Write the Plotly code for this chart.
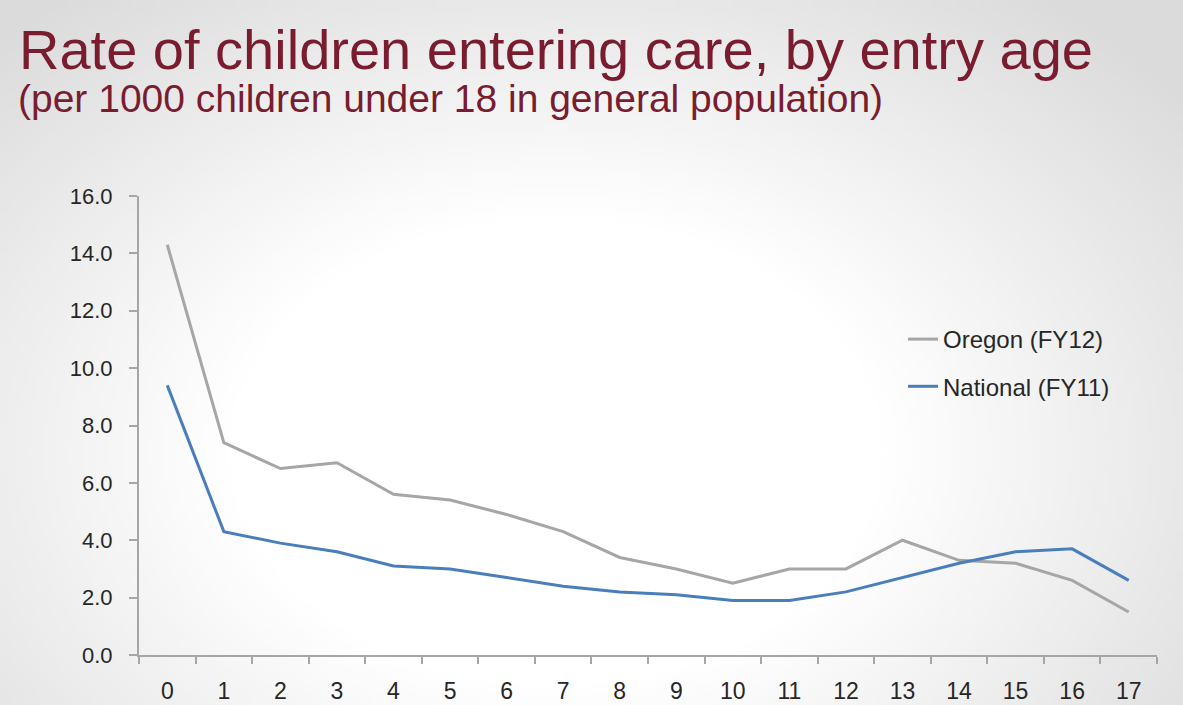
import base64
import struct
import zlib

import numpy as np
import plotly.graph_objects as go

# ---- data ----
ages = [str(a) for a in range(18)]
oregon_fy12 = [14.3, 7.4, 6.5, 6.7, 5.6, 5.4, 4.9, 4.3, 3.4, 3.0, 2.5, 3.0, 3.0, 4.0, 3.3, 3.2, 2.6, 1.5]
national_fy11 = [9.4, 4.3, 3.9, 3.6, 3.1, 3.0, 2.7, 2.4, 2.2, 2.1, 1.9, 1.9, 2.2, 2.7, 3.2, 3.6, 3.7, 2.6]
series_names = ["Oregon (FY12)", "National (FY11)"]
y_ticks = [0, 2, 4, 6, 8, 10, 12, 14, 16]

title_text = "Rate of children entering care, by entry age"
subtitle_text = "(per 1000 children under 18 in general population)"

# ---- layout geometry (pixels) ----
W, H = 1183, 705
ML, MR, MT, MB = 139, 26, 196, 50
PW = W - ML - MR
PH = H - MT - MB


def px_x(x):
    return (x - ML) / PW


def px_y(y):
    return (H - MB - y) / PH


# ---- soft slide background (radial gradient) ----
def gradient_png(w, h):
    xs = (np.arange(w) + 0.5) / w
    ys = (np.arange(h) + 0.5) / h
    X, Y = np.meshgrid(xs, ys)
    r = np.sqrt(((X - 0.47) / 0.62) ** 2 + ((Y - 0.64) / 0.75) ** 2)
    t = np.clip((r - 0.45) / 0.65, 0, 1)
    g = (255 - 36 * t).astype(np.uint8)
    rgb = np.stack([g, g, g], axis=-1)
    raw = b"".join(b"\x00" + rgb[i].tobytes() for i in range(h))

    def chunk(tag, data):
        c = struct.pack(">I", len(data)) + tag + data
        return c + struct.pack(">I", zlib.crc32(tag + data) & 0xFFFFFFFF)

    png = b"\x89PNG\r\n\x1a\n"
    png += chunk(b"IHDR", struct.pack(">IIBBBBB", w, h, 8, 2, 0, 0, 0))
    png += chunk(b"IDAT", zlib.compress(raw, 9))
    png += chunk(b"IEND", b"")
    return "data:image/png;base64," + base64.b64encode(png).decode()


bg = gradient_png(237, 141)

FONT = "Liberation Sans, Arial, sans-serif"

fig = go.Figure()
fig.add_trace(go.Scatter(
    x=ages, y=oregon_fy12, mode="lines", name=series_names[0],
    line=dict(color="#a6a6a6", width=3), legendgroup="a",
))
fig.add_trace(go.Scatter(
    x=ages, y=national_fy11, mode="lines", name=series_names[1],
    line=dict(color="#4a7ebb", width=3), legendgroup="b",
))

fig.update_layout(
    width=W, height=H,
    margin=dict(l=ML, r=MR, t=MT, b=MB, pad=0, autoexpand=False),
    paper_bgcolor="white",
    plot_bgcolor="rgba(0,0,0,0)",
    font=dict(family=FONT, color="#262626"),
    showlegend=True,
    legend=dict(
        x=px_x(903), y=px_y(317), xanchor="left", yanchor="top",
        bgcolor="rgba(0,0,0,0)", font=dict(size=24, color="#262626"),
        tracegroupgap=13, traceorder="grouped", itemwidth=30,
    ),
    images=[dict(
        source=bg, xref="paper", yref="paper",
        x=px_x(0), y=px_y(0), sizex=W / PW, sizey=H / PH,
        xanchor="left", yanchor="top", sizing="stretch", layer="below",
    )],
    annotations=[
        dict(text=title_text, xref="paper", yref="paper",
             x=px_x(17), y=px_y(49), xanchor="left", yanchor="middle",
             showarrow=False, font=dict(size=56, color="#7a1c30", family=FONT)),
        dict(text=subtitle_text, xref="paper", yref="paper",
             x=px_x(16), y=px_y(99), xanchor="left", yanchor="middle",
             showarrow=False, font=dict(size=39, color="#7a1c30", family=FONT)),
    ],
)

fig.update_xaxes(
    type="category", categoryorder="array", categoryarray=ages,
    range=[-0.5, 17.5], automargin=False,
    showline=True, linecolor="#a6a6a6", linewidth=2,
    ticks="outside", tickson="boundaries", ticklen=7, tickwidth=2, tickcolor="#a6a6a6",
    showgrid=False, zeroline=False,
    tickfont=dict(size=23, color="#262626"),
    ticklabelstandoff=14,
)
fig.update_yaxes(
    range=[0, 16], tickvals=y_ticks, tickformat=".1f", automargin=False,
    showline=True, linecolor="#a6a6a6", linewidth=2,
    ticks="outside", ticklen=8, tickwidth=2, tickcolor="#a6a6a6",
    showgrid=False, zeroline=False,
    tickfont=dict(size=22, color="#262626"),
    ticklabelstandoff=12,
)

fig.write_html(
    "out.html",
    config={"displayModeBar": False},
    post_script="document.body.style.margin='0';document.body.style.overflow='hidden';",
)
